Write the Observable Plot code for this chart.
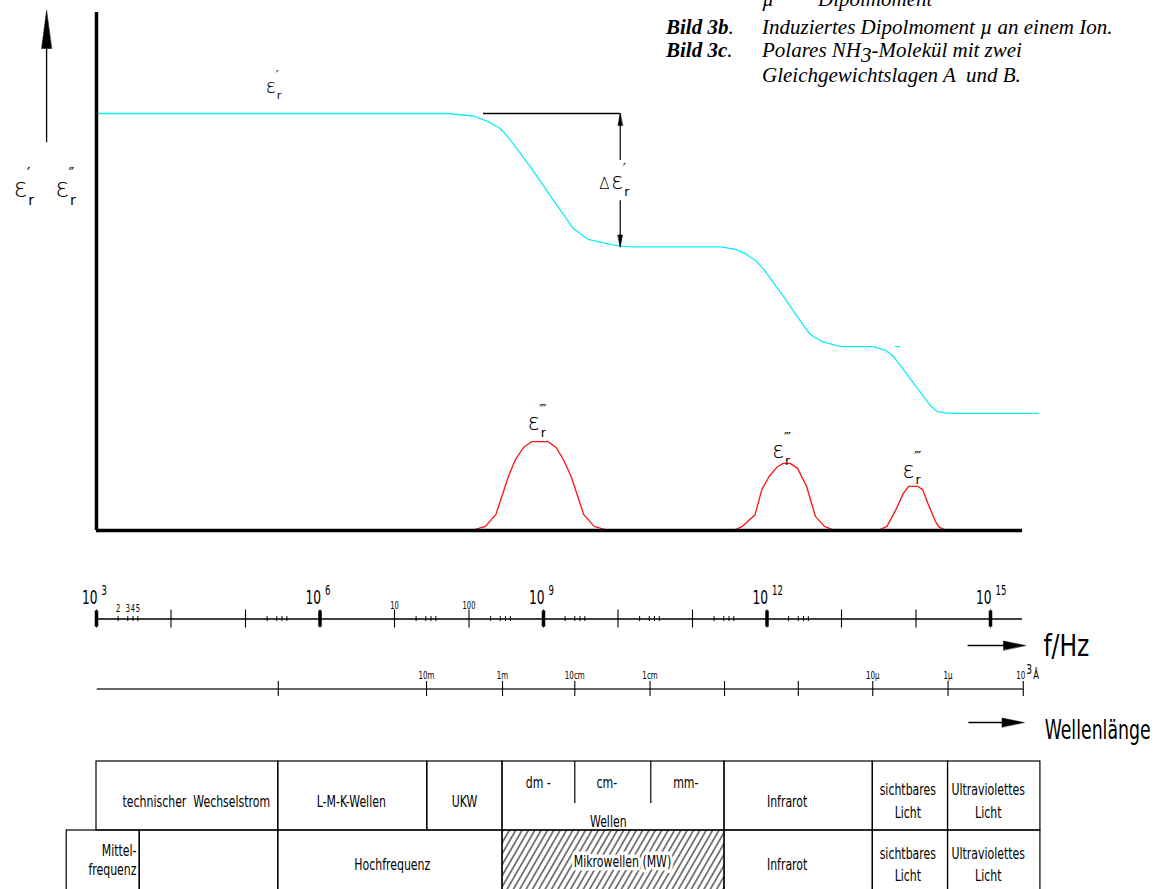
<!DOCTYPE html>
<html><head><meta charset="utf-8">
<script src="https://cdn.jsdelivr.net/npm/d3@7"></script>
<script src="https://cdn.jsdelivr.net/npm/@observablehq/plot@0.6"></script>
<style>
body{margin:0;background:#fff;}
#wrap{position:relative;width:1157px;height:889px;overflow:hidden;background:#fff;}
#wrap > svg{position:absolute;left:0;}
.cap{position:absolute;font-family:"Liberation Serif","Times New Roman",serif;font-style:italic;font-size:21px;line-height:21px;color:#000;white-space:pre;}
.cap b{font-weight:bold;}
</style></head><body><div id="wrap"></div>
<script>
// ---------- data ----------
// frequency exponents (log10 f/Hz) and relative permittivity values
const epsPrimeE = [3.0, 7.71, 8.06, 8.25, 8.42, 8.53, 8.83, 9.09, 9.40, 9.60, 9.90, 10.03, 10.21, 11.38, 11.58, 11.71, 11.85, 11.95, 12.25, 12.36, 12.58, 12.74, 12.99, 13.43, 13.59, 13.70, 13.97, 14.19, 14.29, 14.44, 15.64];
const epsPrimeV = [100, 100, 99.4, 98.1, 96.4, 94.2, 87.1, 80.3, 72.4, 69.8, 68.6, 68.2, 68.0, 68.0, 67.4, 66.4, 64.7, 62.8, 55.4, 52.5, 47.0, 45.3, 44.1, 44.1, 43.2, 41.7, 35.3, 30.0, 28.5, 28.1, 28.1];
const strayDashE = [13.72, 13.78];
const strayDashV = [44.1, 44.1];

const peak1E = [8.03, 8.22, 8.36, 8.53, 8.62, 8.73, 8.84, 9.06, 9.17, 9.27, 9.37, 9.54, 9.68, 9.87];
const peak1V = [0, 1.0, 3.8, 13.0, 16.9, 19.9, 21.3, 21.3, 19.9, 16.9, 13.0, 3.8, 1.0, 0];
const peak2E = [11.55, 11.67, 11.84, 11.93, 12.03, 12.14, 12.22, 12.31, 12.41, 12.53, 12.65, 12.77, 12.91];
const peak2V = [0, 1.0, 3.8, 9.8, 13.0, 15.3, 16.1, 16.1, 14.9, 10.6, 3.4, 1.0, 0];
const peak3E = [13.49, 13.61, 13.73, 13.83, 13.90, 14.02, 14.09, 14.16, 14.26, 14.31, 14.41];
const peak3V = [0, 1.0, 5.0, 8.9, 10.6, 10.6, 9.8, 6.5, 2.2, 0.8, 0];

// frequency axis
const decadeE = [3, 4, 5, 6, 7, 8, 9, 10, 11, 12, 13, 14, 15];
const majorE = [3, 6, 9, 12, 15];
const minorDecades = [3, 5, 7, 8, 9, 10, 11, 12];
const minorFrac = [0.29, 0.42, 0.49, 0.555];
const minorDigitLabels = ["2", "3", "4", "5"];
const smallFreqE = [7, 8];
const smallFreqLabels = ["10", "100"];

// wavelength axis (positions as equivalent log10 f)
const lambdaE = [5.44, 7.43, 8.45, 9.42, 10.43, 11.43, 12.42, 13.42, 14.43, 15.44];
const lambdaLabels = ["", "10m", "1m", "10cm", "1cm", "", "", "10µ", "1µ", "10"];

// spectrum table
const topBounds = [3, 5.44, 7.44, 8.45, 11.43, 13.42, 14.43, 15.67];
const bottomBounds = [2.6, 3.58, 5.44, 8.45, 11.43, 13.42, 14.43, 15.67];
const waveSubDividers = [9.42, 10.44];
const hatchedBand = [8.45, 11.43];
const topTexts = ["technischer  Wechselstrom", "L-M-K-Wellen", "UKW", "Infrarot", "sichtbares\nLicht", "Ultraviolettes\nLicht"];
const topTextE = [4.34, 6.42, 7.94, 12.27, 13.89, 14.97];
const waveTexts = ["dm -", "cm-", "mm-"];
const waveTextE = [8.93, 9.85, 10.91];
const wellenText = "Wellen";
const wellenE = 9.87;
const bottomTexts = ["Hochfrequenz", "Infrarot", "sichtbares\nLicht", "Ultraviolettes\nLicht"];
const bottomTextE = [6.97, 12.27, 13.89, 14.97];
const mwText = "Mikrowellen (MW)";
const mwE = 10.06;
const mittelText = "Mittel-\nfrequenz";
const mittelE = 3.55;

// ---------- helpers ----------
const X = {domain: [3, 15], range: [96, 990], axis: null};
const CAD = '"Liberation Sans Narrow","DejaVu Sans Condensed","DejaVu Sans",sans-serif';
const GREEK = "DejaVu Sans";
const pts = (E, V, extra = {}) => E.map((e, i) => ({e, v: V[i], ...extra}));
const head = (len, half) => ({draw(ctx) { ctx.moveTo(0, 0); ctx.lineTo(-half, len); ctx.lineTo(half, len); ctx.closePath(); }});
const arrowHead = (data, rotate, len, half) => Plot.vector(data, {x: "e", y: "v", length: 1, anchor: "start", rotate, shape: head(len, half), fill: "black", stroke: "black", strokeWidth: 0.5});
function epsMarks(data, fs) {
  return [
    Plot.text(data, {x: "e", y: "v", text: () => "ε", fontSize: fs, lineAnchor: "bottom", fontFamily: GREEK, fontWeight: 200}),
    Plot.text(data, {x: "e", y: "v", text: "sup", fontSize: fs * 0.62, dx: fs * 0.24, dy: -fs * 0.72, lineAnchor: "bottom", textAnchor: "start", fontFamily: GREEK}),
    Plot.text(data, {x: "e", y: "v", text: () => "r", fontSize: fs * 0.55, dx: fs * 0.3, dy: fs * 0.3, lineAnchor: "bottom", textAnchor: "start", fontFamily: GREEK})
  ];
}

const cyan = pts(epsPrimeE, epsPrimeV);
const peaks = [...pts(peak1E, peak1V, {k: 1}), ...pts(peak2E, peak2V, {k: 2}), ...pts(peak3E, peak3V, {k: 3})];
const topLevel = epsPrimeV[0], midLevel = epsPrimeV[12];

// ---------- chart ----------
const chart = Plot.plot({
  width: 1157, height: 545, margin: 0,
  x: X, y: {domain: [0, 100], range: [530, 113], axis: null},
  style: {background: "transparent", overflow: "visible", fontFamily: CAD},
  marks: [
    Plot.line(cyan, {x: "e", y: "v", stroke: "#10eef5", strokeWidth: 1.3}),
    Plot.line(pts(strayDashE, strayDashV), {x: "e", y: "v", stroke: "#10eef5", strokeWidth: 1.3}),
    Plot.line(peaks, {x: "e", y: "v", z: "k", stroke: "#ff1010", strokeWidth: 1.3}),
    Plot.ruleY([0], {x1: 3, x2: 15.43, strokeWidth: 3.5, stroke: "black"}),
    Plot.ruleX([3], {y1: 0, y2: 124.2, strokeWidth: 3.5, stroke: "black"}),
    Plot.ruleX([2.33], {y1: 93, y2: 116, strokeWidth: 1.3, stroke: "black"}),
    arrowHead([{e: 2.33, v: 124.7}], 0, 38, 5),
    Plot.ruleY([topLevel], {x1: 8.195, x2: 10.03, strokeWidth: 1.3, stroke: "black"}),
    Plot.ruleX([10.03], {y1: topLevel, y2: 88.7, strokeWidth: 1.2, stroke: "black"}),
    Plot.ruleX([10.03], {y1: 79.1, y2: midLevel, strokeWidth: 1.2, stroke: "black"}),
    arrowHead([{e: 10.03, v: topLevel}], 0, 12, 2.3),
    arrowHead([{e: 10.03, v: midLevel}], 180, 12, 2.3),
    Plot.text([{e: 9.99, v: 81.8}], {x: "e", y: "v", text: () => "Δ", dx: -13, fontSize: 15, lineAnchor: "bottom", fontFamily: GREEK, fontWeight: 200}),
    ...epsMarks([{e: 9.99, v: 81.8, sup: "′"}], 23),
    ...epsMarks([{e: 1.98, v: 79.9, sup: "′"}, {e: 2.54, v: 79.9, sup: "″"}], 26),
    ...epsMarks([{e: 5.34, v: 104.8, sup: "′"}], 20),
    ...epsMarks([{e: 8.87, v: 24.0, sup: "‴"}, {e: 12.15, v: 17.3, sup: "‴"}, {e: 13.90, v: 12.7, sup: "‴"}], 23)
  ]
});

// ---------- frequency axis ----------
const minorE = minorDecades.flatMap(d => minorFrac.map(f => d + f));
const minorLabelData = minorFrac.map((f, i) => ({e: minorDecades[0] + f, t: minorDigitLabels[i]}));
const freqAxis = Plot.plot({
  width: 1157, height: 100, margin: 0,
  x: X, y: {domain: [-1, 1], range: [68.5, 48.5], axis: null},
  style: {background: "transparent", overflow: "visible", fontFamily: CAD},
  marks: [
    Plot.ruleY([0], {x1: 3, x2: 15.43, strokeWidth: 1.4, stroke: "black"}),
    Plot.ruleX(decadeE, {y1: -0.9, y2: 0.9, strokeWidth: 1.1, stroke: "black"}),
    Plot.ruleX(majorE, {y1: -0.8, y2: 0.8, strokeWidth: 3.5, stroke: "black"}),
    Plot.ruleX(minorE, {y1: -0.25, y2: 0.25, strokeWidth: 1, stroke: "black"}),
    Plot.text(majorE, {x: d => d, y: 1.55, text: () => "10", textAnchor: "end", dx: 1, lineAnchor: "bottom", fontSize: 20}),
    Plot.text(majorE, {x: d => d, y: 1.55, text: d => String(d), textAnchor: "start", dx: 5, dy: -9, lineAnchor: "bottom", fontSize: 14}),
    Plot.text(smallFreqE, {x: d => d, y: 1.05, text: (d, i) => smallFreqLabels[i], lineAnchor: "bottom", fontSize: 11}),
    Plot.text(minorLabelData, {x: "e", y: 0.75, text: "t", lineAnchor: "bottom", fontSize: 11}),
    Plot.ruleY([-2.65], {x1: 14.70, x2: 15.2, strokeWidth: 1.3, stroke: "black"}),
    arrowHead([{e: 15.47, v: -2.65}], 90, 22, 4.5),
    Plot.text([{e: 15.71, v: -3.65}], {x: "e", y: "v", text: () => "f/Hz", textAnchor: "start", lineAnchor: "bottom", fontSize: 30})
  ]
});

// ---------- wavelength axis ----------
const lambdaData = lambdaE.map((e, i) => ({e, t: lambdaLabels[i]}));
const lastLambda = lambdaE[lambdaE.length - 1];
const lambdaAxis = Plot.plot({
  width: 1157, height: 90, margin: 0,
  x: X, y: {domain: [-1, 1], range: [38.5, 18.5], axis: null},
  style: {background: "transparent", overflow: "visible", fontFamily: CAD},
  marks: [
    Plot.ruleY([0], {x1: 3.01, x2: lastLambda, strokeWidth: 1.3, stroke: "#333"}),
    Plot.ruleX(lambdaE, {y1: -0.75, y2: 0.75, strokeWidth: 1.1, stroke: "black"}),
    Plot.text(lambdaData.slice(0, -1).filter(d => d.t), {x: "e", y: 1.05, text: "t", lineAnchor: "bottom", fontSize: 11}),
    Plot.text([lastLambda], {x: d => d, y: 1.05, text: () => lambdaLabels[lambdaLabels.length - 1], textAnchor: "end", dx: 2, lineAnchor: "bottom", fontSize: 11}),
    Plot.text([lastLambda], {x: d => d, y: 1.05, text: () => "3", textAnchor: "start", dx: 3, dy: -5, lineAnchor: "bottom", fontSize: 14}),
    Plot.text([lastLambda], {x: d => d, y: 1.05, text: () => "Å", textAnchor: "start", dx: 10, lineAnchor: "bottom", fontSize: 13}),
    Plot.ruleY([-3.35], {x1: 14.71, x2: 15.2, strokeWidth: 1.3, stroke: "black"}),
    arrowHead([{e: 15.45, v: -3.35}], 90, 22, 4.5),
    Plot.text([{e: 17.15, v: -4.95}], {x: "e", y: "v", text: () => "Wellenlänge", textAnchor: "end", lineAnchor: "bottom", fontSize: 27})
  ]
});

// ---------- table ----------
const cellsTop = topBounds.slice(0, -1).map((e, i) => ({e1: e, e2: topBounds[i + 1], r: 0}));
const cellsBottom = bottomBounds.slice(0, -1).map((e, i) => ({e1: e, e2: bottomBounds[i + 1], r: 1}));
const table = Plot.plot({
  width: 1157, height: 139, margin: 0,
  x: X, y: {domain: [0, 2], range: [11, 149], axis: null},
  style: {background: "transparent", overflow: "visible", fontFamily: CAD},
  marks: [
    Plot.rect([{e1: hatchedBand[0], e2: hatchedBand[1], r: 1}], {x1: "e1", x2: "e2", y1: "r", y2: d => d.r + 1, fill: "url(#hatch)"}),
    Plot.rect([...cellsTop, ...cellsBottom], {x1: "e1", x2: "e2", y1: "r", y2: d => d.r + 1, fill: "none", stroke: "black", strokeWidth: 1.2}),
    Plot.ruleX(waveSubDividers, {y1: 0, y2: 0.61, stroke: "black", strokeWidth: 1.2}),
    Plot.text(topTexts, {x: (d, i) => topTextE[i], y: 0.55, text: d => d, fontSize: 16, lineHeight: 1.38}),
    Plot.text(waveTexts, {x: (d, i) => waveTextE[i], y: 0.31, text: d => d, fontSize: 16}),
    Plot.text([wellenText], {x: wellenE, y: 0.88, text: d => d, fontSize: 16}),
    Plot.text(bottomTexts, {x: (d, i) => bottomTextE[i], y: 1.47, text: d => d, fontSize: 16, lineHeight: 1.38}),
    Plot.text([mwText], {x: mwE, y: 1.45, text: d => d, fontSize: 16, stroke: "white", strokeWidth: 7, fill: "black"}),
    Plot.text([mittelText], {x: mittelE, y: 1.42, text: d => d, fontSize: 16, lineHeight: 1.2, textAnchor: "end", dx: -1})
  ]
});
const defs = d3.select(table).insert("defs", ":first-child");
const pat = defs.append("pattern").attr("id", "hatch").attr("patternUnits", "userSpaceOnUse")
  .attr("width", 5.5).attr("height", 10).attr("patternTransform", "rotate(30)");
pat.append("line").attr("x1", 2.75).attr("y1", 0).attr("x2", 2.75).attr("y2", 10).attr("stroke", "black").attr("stroke-width", 1);

// ---------- assemble ----------
const wrap = document.getElementById("wrap");
[[chart, 0], [freqAxis, 560], [lambdaAxis, 660], [table, 750]].forEach(([svg, top]) => {
  svg.style.top = top + "px";
  wrap.appendChild(svg);
});

// narrow the sans text to imitate the condensed drafting lettering (Greek symbols excluded)
const condenseFactor = new Map([[chart, 0.8], [freqAxis, 0.68], [lambdaAxis, 0.72], [table, 0.76]]);
const fixedWidths = {"f/Hz": 46, "Wellenlänge": 106};
condenseFactor.forEach((factor, svg) => {
  svg.querySelectorAll("text").forEach(t => {
    const g = t.closest("[font-family]");
    if (g && g.getAttribute("font-family") === GREEK) return;
    const spans = t.querySelectorAll("tspan");
    const targets = spans.length ? Array.from(spans) : [t];
    targets.forEach(el => {
      const L = el.getComputedTextLength();
      if (!(L > 0)) return;
      const w = fixedWidths[el.textContent] ?? L * factor;
      el.setAttribute("textLength", w);
      el.setAttribute("lengthAdjust", "spacingAndGlyphs");
    });
  });
});

const capLines = [
  {top: -10.6, html: '<span style="position:absolute;left:96px">µ</span><span style="position:absolute;left:152px">Dipolmoment</span>'},
  {top: 17.4, html: '<b>Bild 3b</b>.<span style="position:absolute;left:96px">Induziertes Dipolmoment µ an einem Ion.</span>'},
  {top: 40.4, html: '<b>Bild 3c</b>.<span style="position:absolute;left:96px">Polares NH<sub style="font-size:21px;vertical-align:-5px;line-height:0">3</sub>-Molekül mit zwei</span>'},
  {top: 65.4, html: '<span style="position:absolute;left:96px">Gleichgewichtslagen A  und B.</span>'}
];
capLines.forEach(c => {
  const d = document.createElement("div");
  d.className = "cap";
  d.style.left = "666px";
  d.style.top = c.top + "px";
  d.style.width = "480px";
  d.style.height = "24px";
  d.innerHTML = c.html;
  wrap.appendChild(d);
});
</script>
</body></html>
